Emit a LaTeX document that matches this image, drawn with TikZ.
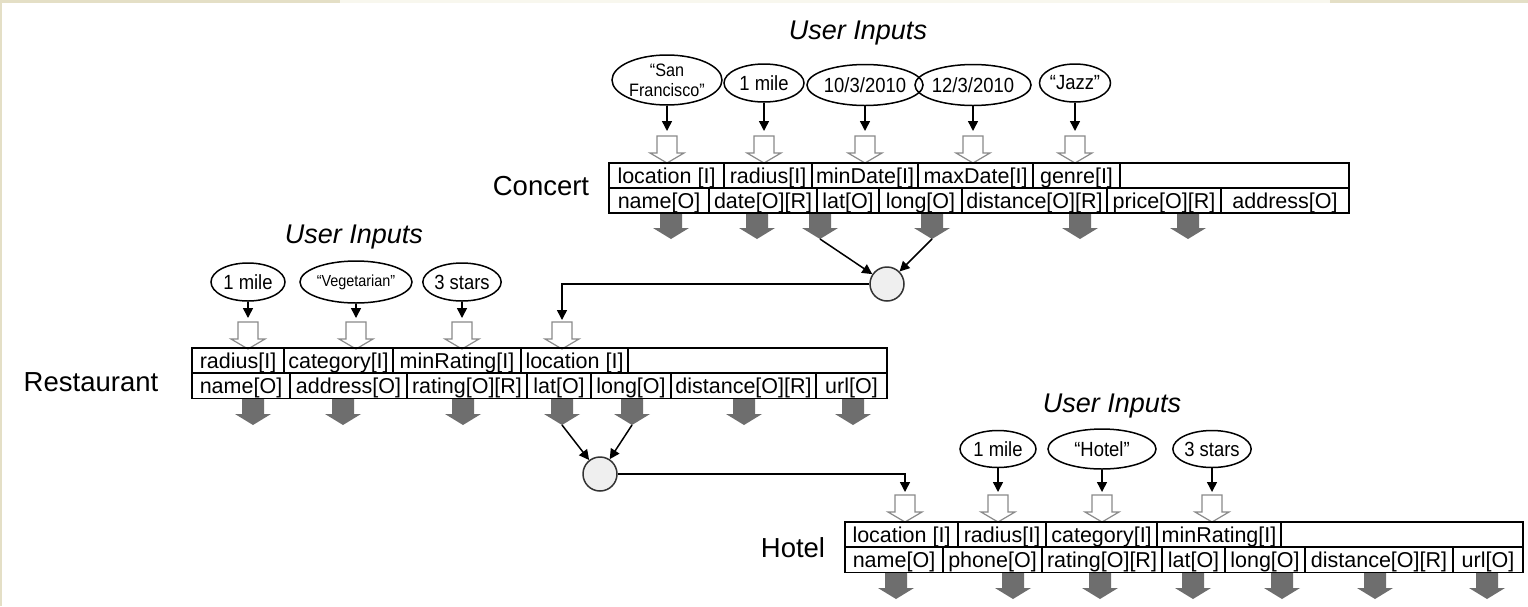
\documentclass[tikz,border=0pt]{standalone}
\usepackage{fontspec}
\setmainfont{Liberation Sans}
\newfontfamily\narrowsans[FakeStretch=0.9]{Liberation Sans}
\usetikzlibrary{shapes.geometric,arrows.meta}
\definecolor{beige}{HTML}{E4DFC6}
\definecolor{beigelt}{HTML}{F8F7EE}
\definecolor{outgray}{HTML}{6E6E6E}
\definecolor{ingray}{HTML}{8A8A8A}
\definecolor{joinfill}{HTML}{EFEFEF}
\newcommand\fsz[1]{\fontsize{#1}{#1}\selectfont}
\tikzset{
  cell/.style={draw=black, line width=1.3pt, minimum height=25pt, inner sep=0pt,
    text height=15.5pt, text depth=0pt, font=\fsz{21.5}},
  oval/.style={ellipse, draw=black, line width=1.5pt, inner sep=0pt, font=\narrowsans\fsz{20.5}},
  tablelabel/.style={font=\fsz{27.5}, inner sep=0pt},
  uilabel/.style={font=\fsz{27}\itshape, inner sep=0pt, anchor=base},
  blk/.style={line width=1.5pt, -{Triangle[length=10pt,width=10pt]}},
  joinnode/.style={circle, draw=black!80, fill=joinfill, line width=1.5pt,
    minimum size=34pt, inner sep=0pt},
  inarrow/.pic={\draw[ingray, fill=white, line width=1.2pt]
    (-10,0)--(10,0)--(10,17)--(17,17)--(0,27)--(-17,17)--(-10,17)--cycle;},
  outarrow/.pic={\fill[outgray]
    (-11,0)--(11,0)--(11,15)--(18,15)--(0,26)--(-18,15)--(-11,15)--cycle;},
}
\begin{document}
\begin{tikzpicture}[x=1pt,y=-1pt]
\useasboundingbox (0,0) rectangle (1528,606);
\fill[white] (0,0) rectangle (1528,606);
\fill[beige] (0,0) rectangle (340,3);
\fill[beigelt] (340,0) rectangle (1330,3);
\fill[beige] (1330,0) rectangle (1528,3);
\fill[beige] (0,0) rectangle (2,606);

% ================= Concert =================
\node[uilabel] (cUI) at (858,39) {User Inputs};
\node[oval, minimum width=110pt, minimum height=50pt, align=center,
  font=\narrowsans\fontsize{18}{20}\selectfont] (coSF) at (667,80) {“San\\Francisco”};
\node[oval, minimum width=80pt, minimum height=38pt] (coMile) at (764,83) {1 mile};
\node[oval, minimum width=107pt, minimum height=41pt] (coMin) at (865,85) {10/3/2010};
\node[oval, minimum width=107pt, minimum height=41pt] (coMax) at (973,85) {12/3/2010};
\node[oval, minimum width=65pt, minimum height=38pt] (coJazz) at (1075,83) {“Jazz”};
\coordinate (cT1) at (667,131);
\coordinate (cT2) at (764,131);
\coordinate (cT3) at (865,131);
\coordinate (cT4) at (973,131);
\coordinate (cT5) at (1075,131);
\draw[blk] (coSF) -- (cT1);
\draw[blk] (coMile) -- (cT2);
\draw[blk] (coMin) -- (cT3);
\draw[blk] (coMax) -- (cT4);
\draw[blk] (coJazz) -- (cT5);
\foreach \x in {667,764,865,973,1075} \pic at (\x,136) {inarrow};
\foreach \x in {671,757,820,932,1080,1188} \pic at (\x,213) {outarrow};

\node[tablelabel] (cLabel) at (541,186) {Concert};
\node[cell, minimum width=115pt] (cI1) at (666.5,175.5) {location [I]};
\node[cell, minimum width=88pt] (cI2) at (768,175.5) {radius[I]};
\node[cell, minimum width=106pt] (cI3) at (865,175.5) {minDate[I]};
\node[cell, minimum width=115pt] (cI4) at (975.5,175.5) {maxDate[I]};
\node[cell, minimum width=87pt] (cI5) at (1076.5,175.5) {genre[I]};
\node[cell, minimum width=229pt] (cI6) at (1234.5,175.5) {};
\node[cell, minimum width=100pt] (cO1) at (659,200.5) {name[O]};
\node[cell, minimum width=108pt] (cO2) at (763,200.5) {date[O][R]};
\node[cell, minimum width=62pt] (cO3) at (848,200.5) {lat[O]};
\node[cell, minimum width=83pt] (cO4) at (920.5,200.5) {long[O]};
\node[cell, minimum width=145pt] (cO5) at (1034.5,200.5) {distance[O][R]};
\node[cell, minimum width=114pt] (cO6) at (1164,200.5) {price[O][R]};
\node[cell, minimum width=128pt] (cO7) at (1285,200.5) {address[O]};

\node[joinnode] (j1) at (887,284) {};
\coordinate (cgLat) at (820,239);
\coordinate (cgLong) at (932,239);
\draw[blk] (cgLat) -- (j1);
\draw[blk] (cgLong) -- (j1);

% ================= Restaurant =================
\node[uilabel] (rUI) at (354,243) {User Inputs};
\node[oval, minimum width=74pt, minimum height=38pt] (roMile) at (248,282) {1 mile};
\node[oval, minimum width=112pt, minimum height=42pt, font=\narrowsans\fsz{16}] (roVeg) at (356,282) {“Vegetarian”};
\node[oval, minimum width=74pt, minimum height=38pt] (roStar) at (462,282) {3 stars};
\coordinate (rT1) at (248,318);
\coordinate (rT2) at (356,318);
\coordinate (rT3) at (462,318);
\coordinate (rT4) at (562,320);
\draw[blk] (roMile) -- (rT1);
\draw[blk] (roVeg) -- (rT2);
\draw[blk] (roStar) -- (rT3);
\draw[blk] (j1.west) -| (rT4);
\foreach \x in {248,356,462,562} \pic at (\x,322) {inarrow};
\foreach \x in {253,343,463,562,632,744,853} \pic at (\x,399) {outarrow};

\node[tablelabel] (rLabel) at (91,382) {Restaurant};
\node[cell, minimum width=92pt] (rI1) at (238,360.5) {radius[I]};
\node[cell, minimum width=109pt] (rI2) at (338.5,360.5) {category[I]};
\node[cell, minimum width=128pt] (rI3) at (457,360.5) {minRating[I]};
\node[cell, minimum width=107pt] (rI4) at (574.5,360.5) {location [I]};
\node[cell, minimum width=259pt] (rI5) at (757.5,360.5) {};
\node[cell, minimum width=98pt] (rO1) at (241,386) {name[O]};
\node[cell, minimum width=117pt] (rO2) at (348.5,386) {address[O]};
\node[cell, minimum width=120pt] (rO3) at (467,386) {rating[O][R]};
\node[cell, minimum width=64pt] (rO4) at (559,386) {lat[O]};
\node[cell, minimum width=80pt] (rO5) at (631,386) {long[O]};
\node[cell, minimum width=145pt] (rO6) at (743.5,386) {distance[O][R]};
\node[cell, minimum width=71pt] (rO7) at (851.5,386) {url[O]};

\node[joinnode] (j2) at (600,474) {};
\coordinate (rgLat) at (562,425);
\coordinate (rgLong) at (632,425);
\draw[blk] (rgLat) -- (j2);
\draw[blk] (rgLong) -- (j2);

% ================= Hotel =================
\node[uilabel] (hUI) at (1112,412) {User Inputs};
\node[oval, minimum width=76pt, minimum height=37pt] (hoMile) at (998,449) {1 mile};
\node[oval, minimum width=108pt, minimum height=40pt] (hoHotel) at (1102,449) {“Hotel”};
\node[oval, minimum width=70pt, minimum height=37pt] (hoStar) at (1212,449) {3 stars};
\coordinate (hT1) at (905,492);
\coordinate (hT2) at (998,492);
\coordinate (hT3) at (1102,492);
\coordinate (hT4) at (1212,492);
\draw[blk] (j2.east) -| (hT1);
\draw[blk] (hoMile) -- (hT2);
\draw[blk] (hoHotel) -- (hT3);
\draw[blk] (hoStar) -- (hT4);
\foreach \x in {905,998,1102,1212} \pic at (\x,495) {inarrow};
\foreach \x in {896,1013,1100,1193,1282,1375,1487} \pic at (\x,573) {outarrow};

\node[tablelabel] (hLabel) at (793,548) {Hotel};
\node[cell, minimum width=113pt] (hI1) at (901.5,534.5) {location [I]};
\node[cell, minimum width=88pt] (hI2) at (1002,534.5) {radius[I]};
\node[cell, minimum width=111pt] (hI3) at (1101.5,534.5) {category[I]};
\node[cell, minimum width=124pt] (hI4) at (1219,534.5) {minRating[I]};
\node[cell, minimum width=242pt] (hI5) at (1402,534.5) {};
\node[cell, minimum width=98pt] (hO1) at (894,560) {name[O]};
\node[cell, minimum width=99pt] (hO2) at (992.5,560) {phone[O]};
\node[cell, minimum width=120pt] (hO3) at (1102,560) {rating[O][R]};
\node[cell, minimum width=63pt] (hO4) at (1193.5,560) {lat[O]};
\node[cell, minimum width=80pt] (hO5) at (1265,560) {long[O]};
\node[cell, minimum width=148pt] (hO6) at (1379,560) {distance[O][R]};
\node[cell, minimum width=70pt] (hO7) at (1488,560) {url[O]};
\end{tikzpicture}
\end{document}
